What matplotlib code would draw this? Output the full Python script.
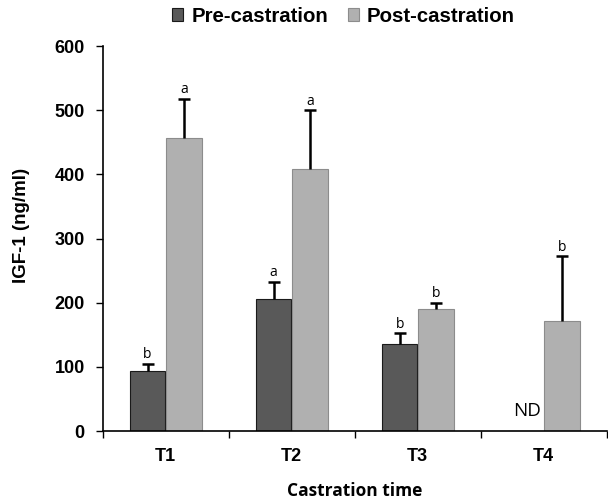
import matplotlib
matplotlib.use("Agg")
import matplotlib.pyplot as plt
import numpy as np

plt.rcParams['font.family'] = ['Liberation Sans', 'DejaVu Sans']

categories = ["T1", "T2", "T3", "T4"]
pre_values = [94, 205, 136, np.nan]
pre_errors = [11, 28, 17, 0]
post_values = [456, 408, 190, 171]
post_errors = [62, 92, 10, 101]
pre_letters = ["b", "a", "b", None]
post_letters = ["a", "a", "b", "b"]
yticks = [0, 100, 200, 300, 400, 500, 600]

fig = plt.figure(figsize=(6.08, 5.04), dpi=100)
ax = fig.add_axes([0.169, 0.1448, 0.829, 0.7639])

x = np.arange(len(categories))
w = 0.28
gap = 0.008
pre_x = x - w / 2 - gap / 2
post_x = x + w / 2 + gap / 2

pre_plot = [0 if np.isnan(v) else v for v in pre_values]
b1 = ax.bar(pre_x, pre_plot, w, color="#595959", edgecolor="#1a1a1a", linewidth=0.8,
            label="Pre-castration", zorder=2)
b2 = ax.bar(post_x, post_values, w, color="#b0b0b0", edgecolor="#8c8c8c", linewidth=0.8,
            label="Post-castration", zorder=2)


def upper_error(xpos, val, err, letter):
    top = val + err
    ax.vlines(xpos, val, top, color="black", linewidth=1.8, zorder=3)
    ax.plot([xpos], [top], marker="_", markersize=8, mew=1.8, color="black", zorder=3)
    ax.text(xpos, top + 2, letter, ha="center", va="bottom",
            family=["Open Sans", "DejaVu Sans"], fontsize=10)


for i in range(len(categories)):
    if not np.isnan(pre_values[i]):
        upper_error(pre_x[i], pre_values[i], pre_errors[i], pre_letters[i])
    upper_error(post_x[i], post_values[i], post_errors[i], post_letters[i])

ax.text(post_x[3] - w / 2 - 0.03, 17, "ND", ha="right", va="bottom",
        family=["Open Sans", "DejaVu Sans"], fontsize=13.5)

ax.set_xlim(-0.5, 3.5)
ax.set_ylim(0, 600)
ax.set_yticks(yticks)
ax.set_yticklabels([str(t) for t in yticks], fontsize=13, fontweight="bold")
ax.set_xticks(np.arange(-0.5, 3.6, 1.0))
ax.set_xticklabels([])
ax.set_xticks(x, minor=True)
ax.set_xticklabels(categories, minor=True, fontsize=13, fontweight="bold")
ax.tick_params(axis="x", which="minor", length=0, pad=12)
ax.tick_params(axis="x", which="major", length=5, direction="out", width=1)
ax.tick_params(axis="y", length=5, direction="out", width=1, pad=8)

ax.spines["top"].set_visible(False)
ax.spines["right"].set_visible(False)
ax.spines["left"].set_linewidth(1.2)
ax.spines["bottom"].set_linewidth(1.2)

ax.set_ylabel("IGF-1 (ng/ml)", fontsize=13.5, fontweight="bold")
ax.yaxis.set_label_coords(-0.145, 0.535)
ax.set_xlabel("Castration time", family=["Open Sans", "DejaVu Sans"],
              fontsize=12.5, fontweight="bold")
ax.xaxis.set_label_coords(0.5, -0.132)

fig.legend(handles=[b1, b2], labels=["Pre-castration", "Post-castration"],
           loc="center", bbox_to_anchor=(0.565, 0.968), ncol=2, frameon=False,
           prop={"weight": "bold", "size": 14.7}, handlelength=0.55, handleheight=0.55,
           handletextpad=0.4, columnspacing=0.95)

fig.savefig("out.png", dpi=100)
